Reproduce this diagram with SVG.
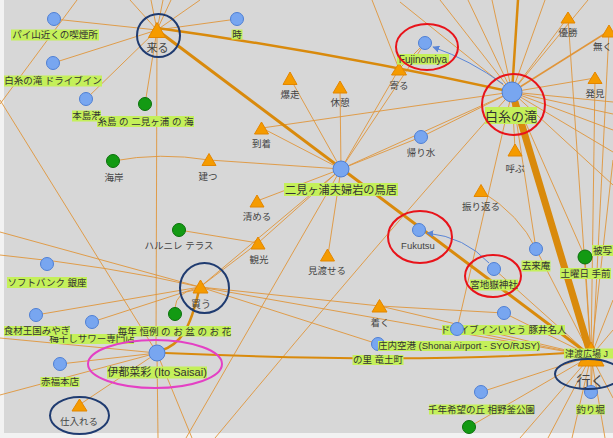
<svg xmlns="http://www.w3.org/2000/svg" width="613" height="438" viewBox="0 0 613 438">
<style>
.e{stroke:#e0953a;stroke-width:0.9;fill:none}
.et{stroke:#d98a0c;fill:none;stroke-linecap:round}
.b{fill:#78a6f0;stroke:#4e7fd4;stroke-width:1}
.g{fill:#139a13;stroke:#0b700b;stroke-width:1}
.t{fill:#f59b00;stroke:#e38600;stroke-width:1;stroke-linejoin:round}
.lb{fill:#c4f05a}
.tx{font-family:"Liberation Sans","Noto Sans CJK JP",sans-serif;font-size:9.5px;fill:#333;text-anchor:middle}
.pl{fill:#444}
.ar{stroke:#5b86d6;stroke-width:1;fill:none}
.red{fill:none;stroke:#e8131a;stroke-width:2}
.navy{fill:none;stroke:#1f3b70;stroke-width:2}
.pink{fill:none;stroke:#e440c4;stroke-width:2}
</style>
<defs>
<marker id="ah" viewBox="0 0 10 10" refX="9" refY="5" markerWidth="7" markerHeight="7" orient="auto" markerUnits="userSpaceOnUse">
<path d="M0,0 L10,5 L0,10 z" fill="#5b86d6"/>
</marker>
</defs>
<rect x="0" y="0" width="613" height="438" fill="#f2f2f2"/>
<rect x="4" y="0" width="609" height="433" fill="#d7d7d7"/>
<g id="edges">
<path class="e" d="M157,30 L54,19 M157,30 L53,63 M157,30 L86,99 M157,30 L145,104 M157,30 L237,19 M157,30 L130,0 M157,30 L151,0 M157,30 L163,0 M157,30 L171,0 M157,30 L200,0 M157,30 L156,353"/>
<path class="e" d="M77,0 L0,104 M0,100 L157,353"/>
<path class="e" d="M341,169 L209,160 M341,169 L262,128 M341,169 L290,78 M341,169 L340,87 M341,169 L399,69 M341,169 L257,201 M341,169 L258,243 M341,169 L328,255 M341,169 L200,287 M341,169 L186,438 M341,169 L512,92 M341,169 L425,43 M341,169 L421,137"/>
<path class="e" d="M113,161 Q160,152 209,160 M179,230 L258,243 M372,0 L399,69 M399,69 L425,43"/>
<path class="e" d="M512,92 L568,17 M512,92 L595,78 M512,92 L515,150 M512,92 L421,137 M512,92 L457,329 M512,92 L536,249 M512,92 L585,257 M512,92 L440,0 M512,92 L468,0 M512,92 L492,0 M512,92 L545,0 M512,92 L588,0 M512,92 L613,102 M512,92 L613,114 M512,92 L613,130 M512,92 L613,152 M512,92 L613,185 M512,92 L400,2 M512,92 L262,128"/>
<path class="e" d="M512,92 Q380,240 215,438"/>
<path class="e" style="stroke-width:1.5" d="M512,92 L609,31"/>
<path class="e" d="M591,356 L481,392 M591,356 L469,427 M591,356 L591,392 M591,356 L504,313 M591,356 L457,329 M591,356 L494,269 M591,356 L585,257 M591,356 L380,306 M591,356 L200,287 M591,356 L568,17 M591,356 L595,78 M591,356 L520,438 M591,356 L548,438 M591,356 L572,438 M591,356 L605,438 M591,356 L613,398 M591,356 L613,330 M591,356 L613,300 M609,31 L591,392 M613,160 L591,356"/>
<path class="e" d="M481,191 Q520,215 536,249 L591,356 M380,306 L504,313"/>
<path class="e" d="M157,353 L60,364 M157,353 L79,405 M157,353 L0,338 M157,353 L0,395 M157,353 L158,438 M157,353 L192,438"/>
<path class="e" d="M0,255 Q110,266 200,287 M200,287 L36,315 M200,287 L92,322 M195,290 Q176,292 175,308 M200,287 L258,243 M200,287 L378,344 M200,287 L380,306 M200,287 L0,232"/>
<path class="et" style="stroke-width:3" d="M157,30 L591,356"/>
<path class="et" style="stroke-width:2.5" d="M157,28 Q330,52 512,92"/>
<path class="et" style="stroke-width:7" d="M512,92 L591,356"/>
<path class="et" style="stroke-width:2.5" d="M518,0 L512,92"/>
<path class="et" style="stroke-width:2.5" d="M160,351 C180,345 190,330 199,290"/>
<path class="et" style="stroke-width:2" d="M165,353 Q420,364 580,352"/>
<path class="ar" marker-end="url(#ah)" d="M503,84 Q470,60 433,47"/>
<path class="ar" marker-end="url(#ah)" d="M489,263 Q465,237 427,233"/>
</g>
<g id="n-paiyama"><circle class="b" cx="54" cy="19" r="6.5"/><rect class="lb" x="11" y="29.5" width="88" height="11"/><text class="tx" x="55" y="38.4">パイ山近くの喫煙所</text></g>
<g id="n-drivein"><circle class="b" cx="53" cy="63" r="6.5"/><rect class="lb" x="4" y="75.5" width="98" height="11"/><text class="tx" x="53" y="84.4">白糸の滝 ドライブイン</text></g>
<g id="n-motojima"><circle class="b" cx="86" cy="99" r="6.5"/><rect class="lb" x="72" y="110.5" width="29" height="11"/><text class="tx" x="86.5" y="119.4">本島港</text></g>
<g id="n-futamiumi"><circle class="g" cx="145" cy="104" r="6.5"/><rect class="lb" x="97" y="116" width="97" height="11"/><text class="tx" x="145.5" y="124.9">糸島 の 二見ヶ浦 の 海</text></g>
<g id="n-kuru"><polygon class="t" points="157,22.5 148.5,37.5 165.5,37.5"/><text class="tx pl" x="157.5" y="52.3" style="font-size:11px">来る</text></g>
<g id="n-toki"><circle class="b" cx="237" cy="19" r="6.5"/><rect class="lb" x="231.5" y="29.5" width="11" height="10"/><text class="tx" x="237" y="38">時</text></g>
<g id="n-yoru"><polygon class="t" points="399,63 391.5,75 406.5,75"/><text class="tx pl" x="399" y="89.4">寄る</text></g>
<g id="n-fujinomiya"><circle class="b" cx="425" cy="43" r="6.5"/><rect class="lb" x="397" y="54" width="52" height="10.5"/><text class="tx" x="423" y="62.7" style="font-size:10px">Fujinomiya</text></g>
<g id="n-shiraito"><circle class="b" cx="512" cy="92" r="10"/><rect class="lb" x="485" y="107" width="52" height="17"/><text class="tx" x="511" y="120.5" style="font-size:13px">白糸の滝</text></g>
<g id="n-yusho"><polygon class="t" points="568,12 561,23 575,23"/><text class="tx pl" x="568" y="36.4">優勝</text></g>
<g id="n-naku"><polygon class="t" points="609,25 602,37 616,37"/><text class="tx pl" x="593" y="50.4" style="text-anchor:start">無く</text></g>
<g id="n-hakken"><polygon class="t" points="595,72 588,83.5 602,83.5"/><text class="tx pl" x="595" y="97.4">発見</text></g>
<g id="n-bakuso"><polygon class="t" points="290,72 283,84.5 297,84.5"/><text class="tx pl" x="290" y="98.4">爆走</text></g>
<g id="n-kyukei"><polygon class="t" points="340,81 333,93 347,93"/><text class="tx pl" x="340" y="106.4">休憩</text></g>
<g id="n-tochaku"><polygon class="t" points="261.5,122 254.5,134 268.5,134"/><text class="tx pl" x="261.5" y="147.4">到着</text></g>
<g id="n-kaerimizu"><circle class="b" cx="421" cy="137" r="6.5"/><text class="tx pl" x="421" y="156.4">帰り水</text></g>
<g id="n-yobu"><polygon class="t" points="515,144 508,156 522,156"/><text class="tx pl" x="515" y="172.4">呼ぶ</text></g>
<g id="n-furikaeru"><polygon class="t" points="481,184.5 474,196.5 488,196.5"/><text class="tx pl" x="481" y="210.4">振り返る</text></g>
<g id="n-kaigan"><circle class="g" cx="113" cy="161" r="6.5"/><text class="tx pl" x="114" y="181.4">海岸</text></g>
<g id="n-tatsu"><polygon class="t" points="209,153.5 202,165.5 216,165.5"/><text class="tx pl" x="208" y="180.4">建つ</text></g>
<g id="n-torii"><circle class="b" cx="341" cy="169" r="8"/><rect class="lb" x="284" y="183" width="114" height="13"/><text class="tx" x="341" y="193.5" style="font-size:11.2px">二見ヶ浦夫婦岩の鳥居</text></g>
<g id="n-kiyomeru"><polygon class="t" points="257,195 250,207 264,207"/><text class="tx pl" x="257" y="220.4">清める</text></g>
<g id="n-harunire"><circle class="g" cx="179" cy="230" r="6.5"/><text class="tx pl" x="179" y="249.4">ハルニレ テラス</text></g>
<g id="n-kanko"><polygon class="t" points="258,237 251,249 265,249"/><text class="tx pl" x="259" y="263.4">観光</text></g>
<g id="n-miwataseru"><polygon class="t" points="327.5,249 320.5,261 334.5,261"/><text class="tx pl" x="327" y="274.4">見渡せる</text></g>
<g id="n-fukutsu"><circle class="b" cx="419" cy="230" r="6.5"/><text class="tx pl" x="418" y="249.4">Fukutsu</text></g>
<g id="n-miyajidake"><circle class="b" cx="494" cy="269" r="6.5"/><rect class="lb" x="470" y="279.5" width="48" height="11"/><text class="tx" x="494" y="288.4">宮地嶽神社</text></g>
<g id="n-kyoraian"><circle class="b" cx="536" cy="249" r="6.5"/><rect class="lb" x="521.5" y="260.5" width="29" height="11"/><text class="tx" x="536" y="269.4">去来庵</text></g>
<g id="n-doyobi"><circle class="g" cx="585" cy="257" r="7"/><rect class="lb" x="560" y="268" width="51" height="11"/><text class="tx" x="585.5" y="276.9">土曜日 手前</text></g>
<g id="n-hisha"><rect class="lb" x="592" y="245" width="21" height="11"/><text class="tx" x="593" y="253.9" style="text-anchor:start">被写</text></g>
<g id="n-softbank"><circle class="b" cx="47" cy="264" r="6.5"/><rect class="lb" x="7" y="277" width="80" height="11"/><text class="tx" x="47" y="285.9">ソフトバンク 銀座</text></g>
<g id="n-kau"><polygon class="t" points="200.5,280 193,293 208,293"/><text class="tx pl" x="201" y="308.4" style="font-size:10px">買う</text></g>
<g id="n-umeboshi"><circle class="b" cx="92" cy="322" r="6.5"/><rect class="lb" x="50" y="334" width="84" height="10"/><text class="tx" x="92" y="342.4">梅干しサワー専門店</text></g>
<g id="n-shokuzai"><circle class="b" cx="36" cy="315" r="6.5"/><rect class="lb" x="4" y="326" width="66" height="10"/><text class="tx" x="37" y="334.4">食材王国みやぎ</text></g>
<g id="n-maitoshi"><circle class="g" cx="175" cy="314" r="6.5"/><rect class="lb" x="118" y="326" width="113" height="10.5"/><text class="tx" x="174.5" y="334.6">毎年 恒例 の お 盆 の お 花</text></g>
<g id="n-itosaisai"><circle class="b" cx="157" cy="353" r="8"/><rect class="lb" x="107" y="366.5" width="100" height="12"/><text class="tx" x="157" y="376.3" style="font-size:11px">伊都菜彩 (Ito Saisai)</text></g>
<g id="n-akafuku"><circle class="b" cx="60" cy="364" r="6.5"/><rect class="lb" x="40.5" y="377" width="39" height="10"/><text class="tx" x="60" y="385.4">赤福本店</text></g>
<g id="n-shiireru"><polygon class="t" points="79.5,399 72,411 87,411"/><text class="tx pl" x="79" y="425.4">仕入れる</text></g>
<g id="n-tsuku"><polygon class="t" points="379.5,299.5 372,312 387,312"/><text class="tx pl" x="380" y="326.4">着く</text></g>
<g id="n-drivein-ito"><circle class="b" cx="504" cy="313" r="6.5"/><rect class="lb" x="442" y="325" width="123" height="10"/><text class="tx" x="503.5" y="333.4">ドライブインいとう 豚井名人</text></g>
<g id="n-ryudo"><circle class="b" cx="378" cy="344" r="6.5"/><rect class="lb" x="352.5" y="355" width="51" height="10"/><text class="tx" x="378" y="363.4">の里 竜土町</text></g>
<g id="n-shonai"><circle class="b" cx="457" cy="329" r="6.5"/><rect class="lb" x="378" y="341" width="162" height="10"/><text class="tx" x="459" y="349.4">庄内空港 (Shonai Airport - SYO/RJSY)</text></g>
<g id="n-iku"><polygon class="t" points="591,342 578,366 604,366"/><text class="tx pl" x="590.5" y="386" style="font-size:14px">行く</text></g>
<g id="n-tsudo"><rect class="lb" x="564" y="348.5" width="49" height="10"/><text class="tx" x="565" y="356.8" style="text-anchor:start;font-size:9px">津渡広場 J</text></g>
<g id="n-tsuribori"><circle class="b" cx="591" cy="392" r="6.5"/><rect class="lb" x="576" y="404.5" width="29" height="10"/><text class="tx" x="590.5" y="412.9">釣り堀</text></g>
<g id="n-sennen"><circle class="b" cx="481" cy="392" r="6.5"/><rect class="lb" x="429" y="404.5" width="105" height="10"/><text class="tx" x="481.5" y="412.9">千年希望の丘 相野釜公園</text></g>
<g id="n-green-bottom"><circle class="g" cx="469" cy="427" r="6.5"/></g>
<g id="annotations">
<ellipse class="red" cx="427" cy="47" rx="31" ry="23"/>
<ellipse class="red" cx="513.5" cy="104.5" rx="31.5" ry="30.5"/>
<ellipse class="red" cx="420" cy="237" rx="32" ry="26"/>
<ellipse class="red" cx="493" cy="276" rx="28" ry="21"/>
<circle class="navy" cx="158.5" cy="35.5" r="21.5"/>
<ellipse class="navy" cx="204.5" cy="288" rx="24.5" ry="25"/>
<ellipse class="navy" cx="588" cy="374" rx="33" ry="15"/>
<ellipse class="navy" cx="79.5" cy="415.5" rx="29.5" ry="18.5"/>
<ellipse class="pink" cx="155" cy="364" rx="67" ry="24"/>
</g>
</svg>
